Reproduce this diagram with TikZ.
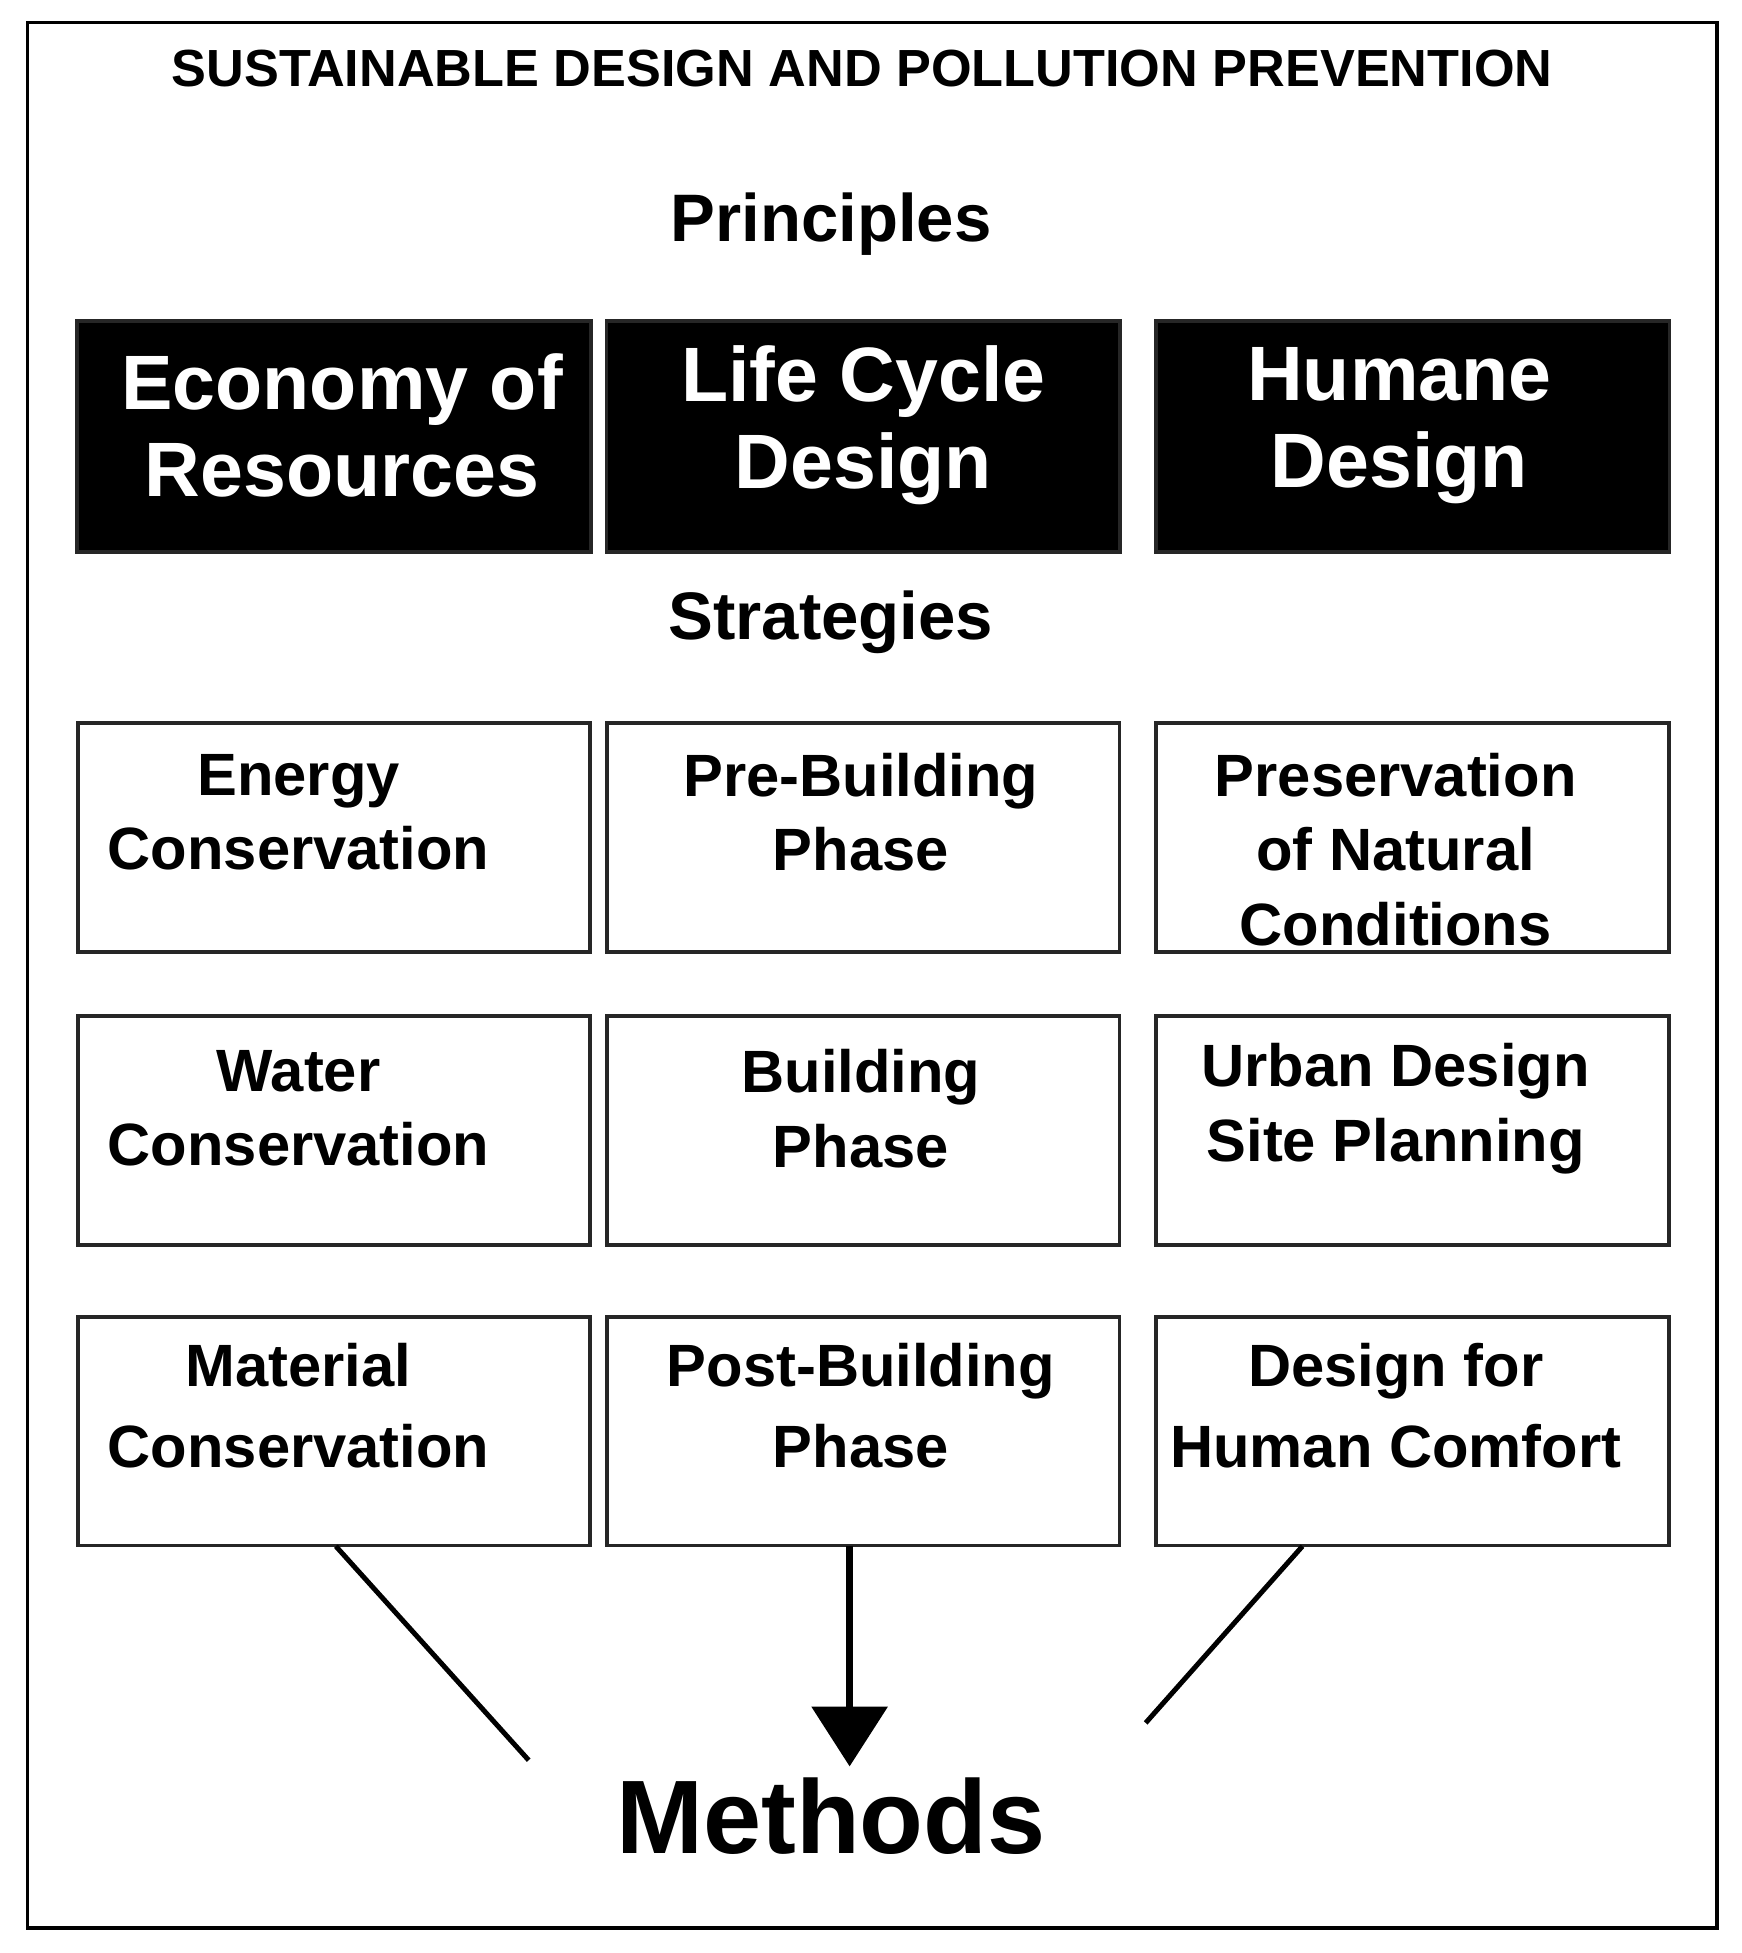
\documentclass[tikz,border=0pt]{standalone}
\usepackage{fontspec}
\setmainfont{Liberation Sans}
\usetikzlibrary{arrows.meta}
\begin{document}
\begin{tikzpicture}[x=0.5pt,y=-0.5pt,
  bbox/.style={draw=black!85,line width=1.5pt,fill=black,minimum width=206.5pt,minimum height=93pt,inner sep=0},
  wbox/.style={draw=black!85,line width=1.5pt,fill=white,minimum width=206pt,minimum height=92pt,inner sep=0},
  btxt/.style={text=white,font=\bfseries\fontsize{31}{35}\selectfont,align=center},
  wtxt/.style={font=\bfseries\fontsize{24}{30}\selectfont,align=center},
  hd/.style={font=\bfseries\fontsize{27}{30}\selectfont}]
\useasboundingbox (0,0) rectangle (1400,1570);
\node[draw,line width=1.5pt,minimum width=679pt,minimum height=766pt,inner sep=0] (frame) at (701,784) {};
\node[font=\bfseries\fontsize{21}{24}\selectfont] (title) at (693,55) {SUSTAINABLE DESIGN AND POLLUTION PREVENTION};
\node[hd] (pr) at (668,180) {Principles};
\node[hd] (st) at (668,500) {Strategies};
\node[bbox] (b1) at (268.5,351) {};
\node[bbox] (b2) at (694,351) {};
\node[bbox] (b3) at (1135.5,351) {};
\node[btxt] (tb1) at (275,342) {Economy of\\Resources};
\node[btxt] (tb2) at (694,342) {Life Cycle\\Design};
\node[btxt] (tb3) at (1125,342) {Humane\\Design};
\foreach \y/\n in {673/1,909/2,1150.5/3}{
  \node[wbox] (w1\n) at (268.5,\y) {};
  \node[wbox] (w2\n) at (694,\y) {};
  \node[wbox] (w3\n) at (1135.5,\y) {};
}
\node[wtxt] (t11) at (240,653) {Energy\\Conservation};
\node[wtxt] (t21) at (692,653) {Pre-Building\\Phase};
\node[wtxt] (t31) at (1122,683) {Preservation\\of Natural\\Conditions};
\node[wtxt] (t12) at (240,891) {Water\\Conservation};
\node[wtxt] (t22) at (692,891) {Building\\Phase};
\node[wtxt] (t32) at (1122,891) {Urban Design\\Site Planning};
\node[wtxt,font=\bfseries\fontsize{24}{32.5}\selectfont] (t13) at (240,1130) {Material\\Conservation};
\node[wtxt,font=\bfseries\fontsize{24}{32.5}\selectfont] (t23) at (692,1130) {Post-Building\\Phase};
\node[wtxt,font=\bfseries\fontsize{24}{32.5}\selectfont] (t33) at (1122,1130) {Design for\\Human Comfort};
\node[font=\bfseries\fontsize{42}{46}\selectfont] (m) at (668,1460) {Methods};
\coordinate (a1) at (270,1243); \coordinate (e1) at (425,1415);
\coordinate (a3) at (1047,1243); \coordinate (e3) at (921,1385);
\coordinate (a2) at (683,1243); \coordinate (e2) at (683,1420);
\draw[line width=2pt] (a1) -- (e1);
\draw[line width=2pt] (a3) -- (e3);
\draw[line width=3pt,-{Triangle[length=24pt,width=30pt]}] (a2) -- (e2);
\end{tikzpicture}
\end{document}
